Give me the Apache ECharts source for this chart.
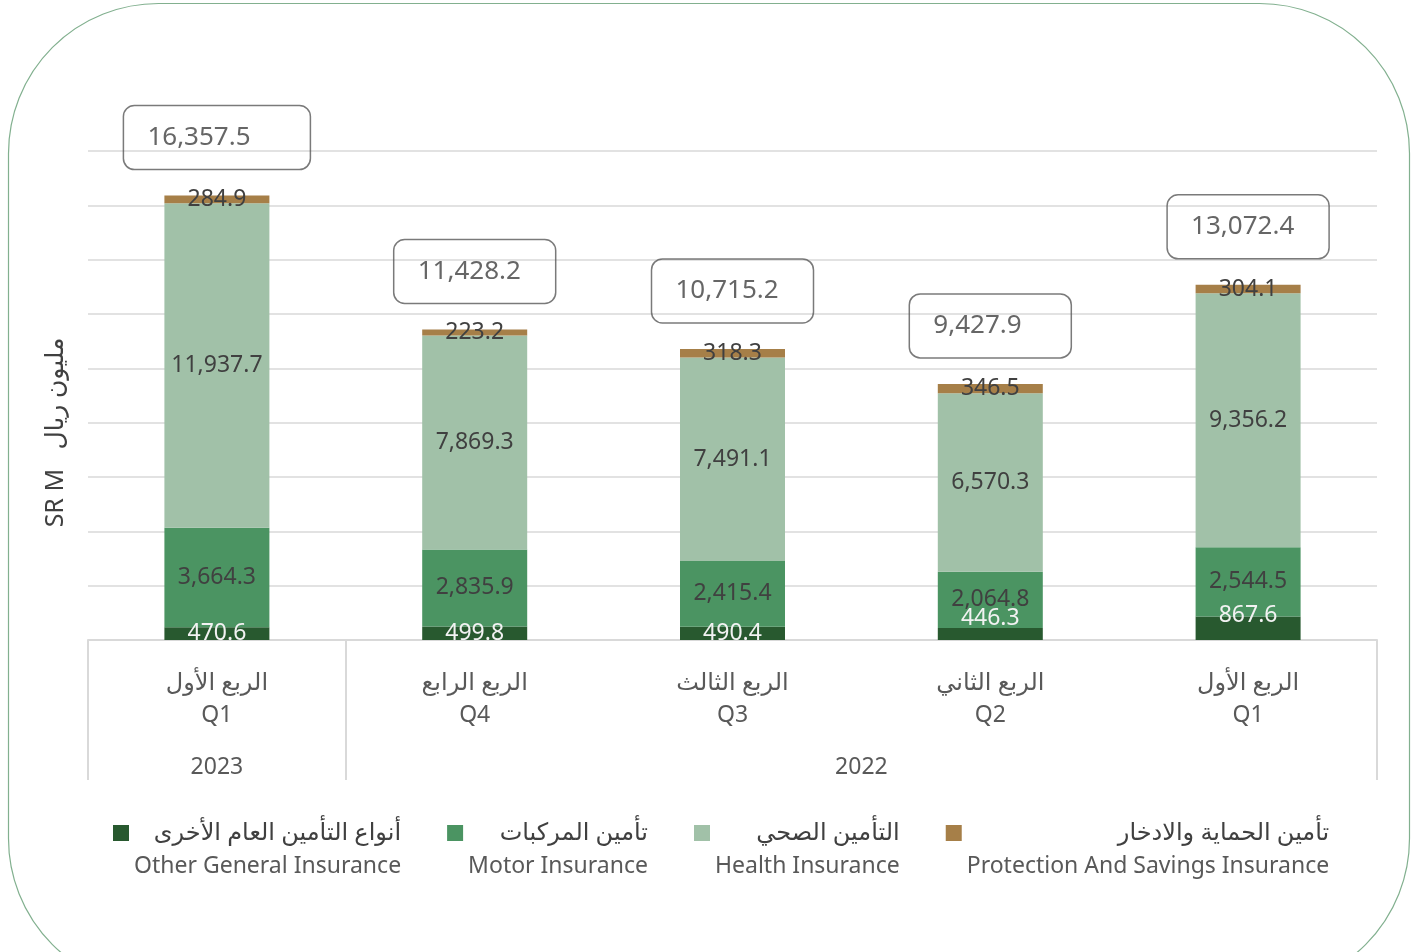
<!DOCTYPE html>
<html>
<head>
<meta charset="utf-8">
<script src="https://cdn.jsdelivr.net/npm/echarts@6/dist/echarts.min.js"></script>
<style>
  html, body { margin: 0; padding: 0; background: #fff; }
  #chart { width: 1418px; height: 952px; }
</style>
</head>
<body>
<div id="chart"></div>
<script>
  const FONT = '"Noto Sans", "DejaVu Sans", sans-serif'

  // categories (left to right)
  const QUARTERS_AR = ['الربع الأول', 'الربع الرابع', 'الربع الثالث', 'الربع الثاني', 'الربع الأول']
  const QUARTERS = ['Q1', 'Q4', 'Q3', 'Q2', 'Q1']
  const YEARS = ['2023', '2022']

  // series values, SR M
  const OTHER = [470.6, 499.8, 490.4, 446.3, 867.6]
  const MOTOR = [3664.3, 2835.9, 2415.4, 2064.8, 2544.5]
  const HEALTH = [11937.7, 7869.3, 7491.1, 6570.3, 9356.2]
  const PROTECTION = [284.9, 223.2, 318.3, 346.5, 304.1]
  const TOTALS = [16357.5, 11428.2, 10715.2, 9427.9, 13072.4]

  const NAMES = [
    ['أنواع التأمين العام الأخرى', 'Other General Insurance'],
    ['تأمين المركبات', 'Motor Insurance'],
    ['التأمين الصحي', 'Health Insurance'],
    ['تأمين الحماية والادخار', 'Protection And Savings Insurance']
  ]
  const COLORS = ['#28592f', '#4b9462', '#a1c1a8', '#a67f48']

  const fmt = v => v.toLocaleString('en-US', { minimumFractionDigits: 1, maximumFractionDigits: 1 })

  const segLabel = {
    show: true,
    position: 'inside',
    fontFamily: FONT,
    fontSize: 23,
    color: '#404040',
    formatter: p => fmt(p.value)
  }

  function stackSeries (idx, values, extraLabel) {
    return {
      name: NAMES[idx][1],
      type: 'bar',
      stack: 'total',
      barWidth: 105,
      itemStyle: { color: COLORS[idx] },
      label: Object.assign({}, segLabel, extraLabel || {}),
      data: values
    }
  }

  // the last two small labels sit above their segment, as in the source
  const otherData = OTHER.map((v, i) => {
    if (i >= 3) {
      return { value: v, label: { offset: [0, i === 3 ? -15 : -13] } }
    }
    return v
  })

  const option = {
    backgroundColor: '#fff',
    textStyle: { fontFamily: FONT },
    animation: false,
    graphic: [
      {
        type: 'rect',
        z: -10,
        shape: { x: 8.5, y: 3.5, width: 1401, height: 985, r: 150 },
        style: { fill: 'none', stroke: '#82b08f', lineWidth: 1.2 }
      }
    ],
    grid: { left: 88, right: 41, top: 151, bottom: 312 },
    legend: {
      data: NAMES.map(n => n[1]),
      left: 108,
      top: 816,
      itemWidth: 16,
      itemHeight: 16,
      itemGap: 46,
      icon: 'rect',
      formatter: name => {
        const n = NAMES.find(x => x[1] === name)
        return '{ar|' + n[0] + '}\n{en|' + n[1] + '}'
      },
      textStyle: {
        padding: [32, 0, 0, 0],
        rich: {
          ar: { fontFamily: FONT, fontSize: 24, color: '#404040', align: 'right', lineHeight: 34 },
          en: { fontFamily: FONT, fontSize: 23, color: '#595959', align: 'right', lineHeight: 32 }
        }
      }
    },
    xAxis: [
      {
        type: 'category',
        data: QUARTERS.map((q, i) => q + '_' + i),
        axisLine: { show: true, lineStyle: { color: '#d9d9d9', width: 2 } },
        axisTick: { show: false },
        axisLabel: {
          margin: 27,
          interval: 0,
          formatter: (v, i) => '{ar|' + QUARTERS_AR[i] + '}\n{q|' + QUARTERS[i] + '}',
          rich: {
            ar: { fontFamily: FONT, fontSize: 24, color: '#595959', lineHeight: 32 },
            q: { fontFamily: FONT, fontSize: 23, color: '#595959', lineHeight: 32 }
          }
        }
      },
      {
        type: 'value',
        min: 0,
        max: 5,
        position: 'bottom',
        axisLine: { show: false },
        splitLine: { show: false },
        axisTick: {
          show: true,
          customValues: [0, 1, 5],
          length: 140,
          lineStyle: { color: '#d9d9d9', width: 2 }
        },
        axisLabel: {
          show: true,
          margin: 116,
          customValues: [0.5, 3],
          fontFamily: FONT,
          fontSize: 23,
          color: '#595959',
          formatter: v => (v < 1 ? YEARS[0] : YEARS[1])
        }
      }
    ],
    yAxis: {
      type: 'value',
      min: 0,
      max: 18000,
      interval: 2000,
      axisLabel: { show: false },
      axisLine: { show: false },
      axisTick: { show: false },
      splitLine: { lineStyle: { color: '#d9d9d9', width: 1.5 } },
      name: 'SR M   مليون ريال',
      nameLocation: 'middle',
      nameRotate: 90,
      nameGap: 20,
      nameTextStyle: {
        fontFamily: FONT,
        fontSize: 25,
        color: '#404040',
        padding: [0, 74, 0, 0]
      }
    },
    series: [
      stackSeries(0, otherData, { color: '#f2f2f2' }),
      stackSeries(1, MOTOR),
      stackSeries(2, HEALTH),
      stackSeries(3, PROTECTION),
      {
        name: 'total',
        type: 'scatter',
        symbolSize: 0,
        z: 5,
        label: {
          show: true,
          position: 'top',
          distance: 26,
          align: 'center',
          width: 123,
          padding: [16, 15, 16, 24],
          borderColor: '#595959',
          borderWidth: 1.5,
          borderRadius: 11,
          formatter: p => '{v|' + fmt(p.value) + '}',
          rich: {
            v: { fontFamily: FONT, fontSize: 26, color: '#404040', align: 'left', lineHeight: 32 }
          }
        },
        data: TOTALS.map((v, i) => (i === 0 ? { value: v, label: { width: 148 } } : v))
      }
    ]
  }

  const chart = echarts.init(document.getElementById('chart'))
  chart.setOption(option)
</script>
</body>
</html>
